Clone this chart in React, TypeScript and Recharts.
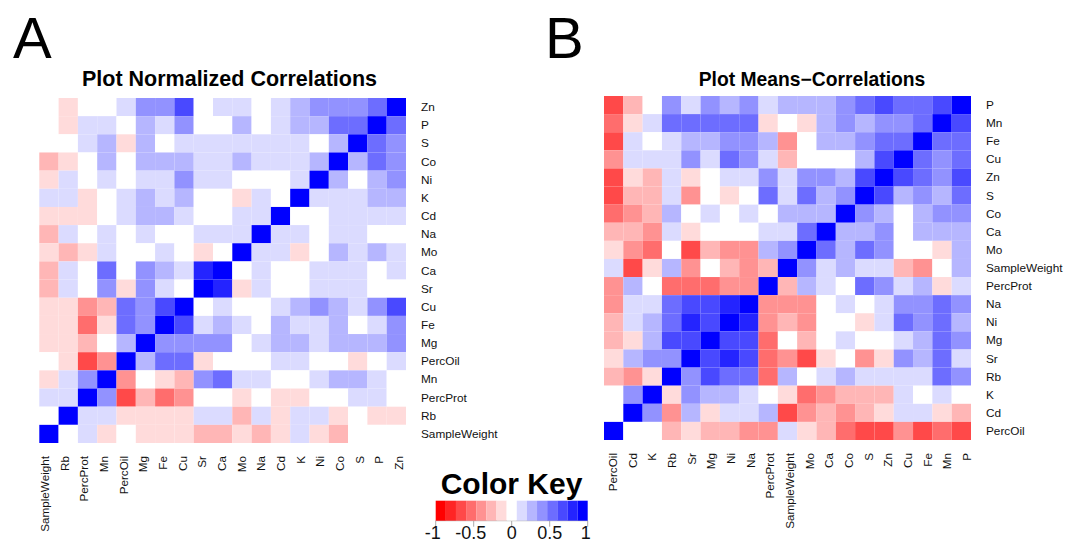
import { Scatter, ScatterChart, XAxis, YAxis } from "recharts";

const WIDTH = 1076;
const HEIGHT = 544;
const FONT = '"Liberation Sans", Arial, sans-serif';

// Panel A labels
const aColumns = ["SampleWeight", "Rb", "PercProt", "Mn", "PercOil", "Mg", "Fe", "Cu", "Sr", "Ca", "Mo", "Na", "Cd", "K", "Ni", "Co", "S", "P", "Zn"];
const aRows = ["Zn", "P", "S", "Co", "Ni", "K", "Cd", "Na", "Mo", "Ca", "Sr", "Cu", "Fe", "Mg", "PercOil", "Mn", "PercProt", "Rb", "SampleWeight"];

// Panel B labels
const bColumns = ["PercOil", "Cd", "K", "Rb", "Sr", "Mg", "Ni", "Na", "PercProt", "SampleWeight", "Mo", "Ca", "Co", "S", "Zn", "Cu", "Fe", "Mn", "P"];
const bRows = ["P", "Mn", "Fe", "Cu", "Zn", "S", "Co", "Ca", "Mo", "SampleWeight", "PercProt", "Na", "Ni", "Mg", "Sr", "Rb", "K", "Cd", "PercOil"];

// correlations, in sevenths (the key has 15 bins)
const aValues = [
  [0, -1, 0, 0, 1, 3, 3, 5, 0, 1, 1, 0, 1, 2, 3, 3, 3, 4, 7],
  [0, -1, 1, 1, 0, 2, 1, 3, 0, 0, 2, 0, 1, 2, 2, 4, 4, 7, 4],
  [0, 0, 1, 2, -1, 2, 0, 1, 1, 1, 1, 1, 1, 1, 0, 2, 7, 4, 3],
  [-2, -1, 0, 2, 0, 2, 2, 2, 1, 1, 2, 1, 1, 1, 2, 7, 2, 4, 3],
  [-1, 1, 0, 1, 0, 1, 1, 3, 1, 1, 0, 0, 0, 1, 7, 2, 0, 2, 3],
  [1, 1, -1, 0, 1, 2, 1, 2, 0, 0, -1, 1, 0, 7, 1, 1, 1, 2, 2],
  [-1, -1, -1, 0, 1, 2, 2, 1, 0, 0, 1, 1, 7, 0, 0, 1, 1, 1, 1],
  [-2, 1, 0, 1, 0, 1, 0, 0, 1, 1, 1, 7, 1, 1, 0, 1, 1, 0, 0],
  [-1, -2, -1, 1, 0, 0, 1, 0, -1, 0, 7, 1, 1, -1, 0, 2, 1, 2, 1],
  [-2, 1, 0, 4, 0, 3, 2, 1, 6, 7, 0, 1, 0, 0, 1, 1, 1, 0, 1],
  [-2, 1, 0, 3, -1, 3, 1, 0, 7, 6, -1, 1, 0, 0, 1, 1, 1, 0, 0],
  [-1, -1, -3, -2, 4, 3, 5, 7, 0, 1, 0, 0, 1, 2, 3, 2, 1, 3, 5],
  [-1, -1, -4, -1, 4, 3, 7, 5, 1, 2, 1, 0, 2, 1, 1, 2, 0, 1, 3],
  [-1, -1, -2, 0, 2, 7, 3, 3, 3, 3, 0, 1, 2, 2, 1, 2, 2, 2, 3],
  [0, -1, -5, -3, 7, 2, 4, 4, -1, 0, 0, 0, 1, 1, 0, 0, -1, 0, 1],
  [-1, 1, 3, 7, -3, 0, -1, -2, 3, 4, 1, 1, 0, 0, 1, 2, 2, 1, 0],
  [1, 1, 7, 3, -5, -2, -4, -3, 0, 0, -1, 0, -1, -1, 0, 0, 1, 1, 0],
  [0, 7, 1, 1, -1, -1, -1, -1, 1, 1, -2, 1, -1, 1, 1, -1, 0, -1, -1],
  [7, 0, 1, -1, 0, -1, -1, -1, -2, -2, -1, -2, -1, 1, -1, -2, 0, 0, 0],
];

const bValues = [
  [-5, -2, 0, 3, 1, 3, 2, 3, 1, 2, 2, 2, 3, 4, 5, 4, 4, 5, 7],
  [-4, -1, 1, 4, 4, 4, 4, 4, -1, 0, -1, 2, 3, 2, 3, 3, 4, 7, 5],
  [-5, 1, 0, 1, 2, 2, 3, 3, 2, -3, 0, 2, 2, 3, 4, 4, 7, 4, 4],
  [-3, 1, 1, 1, 3, 1, 4, 3, 1, -2, 0, 0, 0, 2, 5, 7, 4, 3, 4],
  [-5, -1, -2, 1, -1, 0, 1, 1, 3, 1, 3, 3, 2, 5, 7, 5, 4, 3, 5],
  [-5, -2, -2, 1, -3, 0, -1, 0, 4, 1, 4, 2, 3, 7, 5, 2, 3, 2, 4],
  [-4, -3, -2, 2, 0, 1, 0, 1, 0, 2, 2, 2, 7, 3, 2, 0, 2, 3, 3],
  [-2, -2, -3, 1, -1, 0, 0, 0, 1, 1, 4, 7, 2, 2, 3, 0, 2, 2, 2],
  [-1, -3, -4, 0, -5, -2, -3, -3, 2, 3, 7, 4, 2, 4, 3, 0, 0, -1, 2],
  [1, -5, -1, 2, -3, 0, -2, -3, -2, 7, 3, 1, 2, 1, 1, -2, -3, 0, 2],
  [-3, 2, 0, -4, -4, -4, -3, -3, 7, -2, 2, 1, 0, 4, 3, 1, 2, -1, 1],
  [-3, 1, 1, 4, 5, 5, 6, 7, -3, -3, -3, 0, 1, 0, 1, 3, 3, 4, 3],
  [-2, 1, 2, 4, 6, 5, 7, 6, -3, -2, -3, 0, 0, -1, 1, 4, 3, 4, 2],
  [-2, -1, 2, 5, 5, 7, 5, 5, -4, 0, -2, 0, 1, 0, 0, 1, 2, 4, 3],
  [-1, 2, 3, 3, 7, 5, 6, 5, -4, -3, -5, -1, 0, -3, -1, 3, 2, 4, 1],
  [-2, -3, -1, 7, 3, 5, 4, 4, -4, 2, 0, 1, 2, 1, 1, 1, 1, 4, 3],
  [0, 3, 7, -1, 3, 2, 2, 1, 0, -1, -4, -3, -2, -2, -2, 1, 0, 1, 0],
  [0, 7, 3, -3, 2, -1, 1, 1, 2, -5, -3, -2, -3, -2, -1, 1, 1, -1, -2],
  [7, 0, 0, -2, -1, -2, -2, -3, -3, 1, -1, -2, -4, -5, -5, -3, -5, -4, -5],
];

const keyLevels = [-7, -6, -5, -4, -3, -2, -1, 0, 1, 2, 3, 4, 5, 6, 7];
const keyTicks = [-1, -0.5, 0, 0.5, 1];

function levelColor(level: number) {
  const c = Math.round(255 * (1 - Math.abs(level) / 7));
  return level < 0 ? `rgb(255,${c},${c})` : `rgb(${c},${c},255)`;
}

function cellShape(w: number, h: number) {
  return (props: any) => (
    <rect
      x={props.cx - w / 2}
      y={props.cy - h / 2}
      width={w}
      height={h}
      fill={levelColor(props.payload.level)}
    />
  );
}

function Heatmap({
  box,
  rows,
  columns,
  values,
}: {
  box: {
    left: number;
    right: number;
    top: number;
    bottom: number;
    rowGap: number;
    colGap: number;
    // the bottom labels sit on a slightly wider pitch than the cells
    labelShift: [number, number];
  };
  rows: string[];
  columns: string[];
  values: number[][];
}) {
  const cells = values.flatMap((row, r) =>
    row.map((level, c) => ({ col: c + 0.5, row: r + 0.5, level }))
  );
  const axisTicks = columns.map((_, i) => i + 0.5);
  const cellW = (box.right - box.left) / columns.length;
  const cellH = (box.bottom - box.top) / rows.length;
  const [shiftStart, shiftEnd] = box.labelShift;

  return (
    <div style={{ position: "absolute", left: 0, top: 0 }}>
      <ScatterChart
        width={WIDTH}
        height={HEIGHT}
        margin={{
          left: box.left,
          top: box.top,
          right: WIDTH - box.right - 100,
          bottom: HEIGHT - box.bottom - 100,
        }}
      >
        <XAxis
          type="number"
          dataKey="col"
          domain={[0, columns.length]}
          ticks={axisTicks}
          interval={0}
          height={100}
          axisLine={false}
          tickLine={false}
          tick={(p: any) => {
            const i = Math.floor(p.payload.value);
            const x = p.x + shiftStart + ((shiftEnd - shiftStart) * i) / (columns.length - 1);
            const y = box.bottom + box.colGap;
            return (
              <text
                x={x}
                y={y}
                transform={`rotate(-90 ${x} ${y})`}
                dy={4}
                textAnchor="end"
                fontSize={11.7}
                fontFamily={FONT}
                fill="#111"
              >
                {columns[i]}
              </text>
            );
          }}
        />
        <YAxis
          type="number"
          dataKey="row"
          orientation="right"
          reversed
          domain={[0, rows.length]}
          ticks={axisTicks}
          interval={0}
          width={100}
          axisLine={false}
          tickLine={false}
          tick={(p: any) => (
            <text
              x={box.right + box.rowGap}
              y={p.y}
              dy={4}
              fontSize={11.8}
              fontFamily={FONT}
              fill="#111"
            >
              {rows[Math.floor(p.payload.value)]}
            </text>
          )}
        />
        <Scatter data={cells} isAnimationActive={false} shape={cellShape(cellW, cellH)} />
      </ScatterChart>
    </div>
  );
}

function ColorKey() {
  const left = 435.7;
  const right = 587.7;
  const top = 500.7;
  const barBottom = 520.7;
  const cells = keyLevels.map((level) => ({ pos: (level * 2) / 15, mid: 0.5, level }));
  return (
    <div style={{ position: "absolute", left: 0, top: 0 }}>
      <ScatterChart
        width={WIDTH}
        height={HEIGHT}
        margin={{ left, top, right: WIDTH - right, bottom: 0 }}
      >
        <XAxis
          type="number"
          dataKey="pos"
          domain={[-1, 1]}
          ticks={keyTicks}
          interval={0}
          height={HEIGHT - barBottom}
          stroke="#aaa"
          tickSize={6}
          tick={(p: any) => (
            <text
              x={p.x + (p.payload.value < 0 ? -3 : p.payload.value === 1 ? -2 : 0)}
              y={539}
              textAnchor="middle"
              fontSize={18}
              fontFamily={FONT}
              fill="#111"
            >
              {p.payload.value}
            </text>
          )}
        />
        <YAxis type="number" dataKey="mid" domain={[0, 1]} hide />
        <Scatter
          data={cells}
          isAnimationActive={false}
          shape={cellShape((right - left) / keyLevels.length, barBottom - top)}
        />
      </ScatterChart>
    </div>
  );
}

export default function App() {
  return (
    <div style={{ position: "absolute", left: 0, top: 0, width: WIDTH, height: HEIGHT, background: "#fff" }}>
      <Heatmap
        box={{ left: 39.3, right: 406, top: 98, bottom: 443, rowGap: 15, colGap: 13, labelShift: [-4, 2.5] }}
        rows={aRows}
        columns={aColumns}
        values={aValues}
      />
      <Heatmap
        box={{ left: 604, right: 971, top: 96, bottom: 440, rowGap: 15, colGap: 13, labelShift: [-0.5, 5.5] }}
        rows={bRows}
        columns={bColumns}
        values={bValues}
      />
      <ColorKey />
      <svg width={WIDTH} height={HEIGHT} style={{ position: "absolute", left: 0, top: 0, pointerEvents: "none" }} fontFamily={FONT}>
        <text x={13} y={58} fontSize={58}>A</text>
        <text x={545} y={58} fontSize={58}>B</text>
        <text x={229.5} y={86} fontSize={21.5} fontWeight="bold" textAnchor="middle">Plot Normalized Correlations</text>
        <text x={812} y={86} fontSize={19.3} fontWeight="bold" textAnchor="middle">Plot Means−Correlations</text>
        <text x={511.5} y={494} fontSize={30} fontWeight="bold" textAnchor="middle">Color Key</text>
      </svg>
    </div>
  );
}
